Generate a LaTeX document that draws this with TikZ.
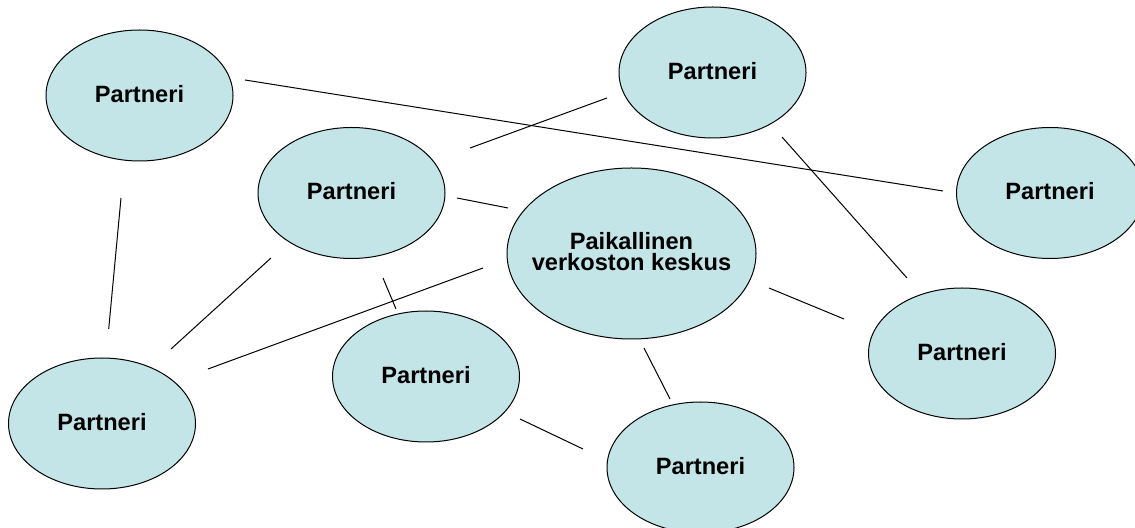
\documentclass[tikz,border=0pt]{standalone}
\usepackage{fontspec}
\setmainfont{Liberation Sans}
\usetikzlibrary{shapes.geometric,calc}
\definecolor{nodefill}{RGB}{196,229,232}
\begin{document}
\begin{tikzpicture}[x=0.5pt,y=-0.5pt,
  partner/.style={ellipse,draw=black,line width=0.5pt,fill=nodefill,
    minimum width=93.5pt,minimum height=65.5pt,inner sep=0pt,align=center,
    text depth=2pt,
    font=\fontsize{11.8pt}{10.9pt}\selectfont\bfseries},
  hub/.style={partner,minimum width=124.5pt,minimum height=85.5pt,
    inner xsep=-12pt},
  link/.style={draw=black,line width=0.5pt}]
\useasboundingbox (0,0) rectangle (1135,528);
\begin{scope}
\clip (0,0) rectangle (1135,528);
% partners around the local hub
\node[partner] (tl)  at (139.5,95.5) {Partneri};
\node[partner] (top) at (712.5,72.5) {Partneri};
\node[partner] (ml)  at (351.5,193)  {Partneri};
\node[hub]     (ctr) at (631.5,253.5) {Paikallinen\\verkoston keskus};
\node[partner] (r)   at (1050,193)   {Partneri};
\node[partner] (rl)  at (962,353.5)  {Partneri};
\node[partner] (bm)  at (426,376.5)  {Partneri};
\node[partner] (b)   at (700.5,467.5) {Partneri};
\node[partner] (bl)  at (102,423.5)  {Partneri};
\end{scope}
% connections, each ending short of the ellipses
\draw[link] ($(tl)+(105.5,-15.5)$) -- ($(r)+(-107,-2)$);
\draw[link] ($(top)+(-105.5,25.5)$) -- ($(ml)+(118.5,-45)$);
\draw[link] ($(top)+(69.5,64.5)$) -- ($(rl)+(-55,-75.5)$);
\draw[link] ($(ml)+(105.5,5)$) -- ($(ctr)+(-123.5,-45.5)$);
\draw[link] ($(tl)+(-18.5,102.5)$) -- ($(bl)+(6.7,-94.5)$);
\draw[link] ($(ml)+(-80.5,65)$) -- ($(bl)+(69,-74.5)$);
\draw[link] ($(ctr)+(-148.5,14.5)$) -- ($(bl)+(106,-54.5)$);
\draw[link] ($(ml)+(31.5,85)$) -- ($(bm)+(-30,-67.5)$);
\draw[link] ($(ctr)+(137.5,34.5)$) -- ($(rl)+(-118,-34.5)$);
\draw[link] ($(ctr)+(12.5,94.5)$) -- ($(b)+(-30.5,-68.5)$);
\draw[link] ($(bm)+(94,42.5)$) -- ($(b)+(-117.5,-18.5)$);
\end{tikzpicture}
\end{document}
